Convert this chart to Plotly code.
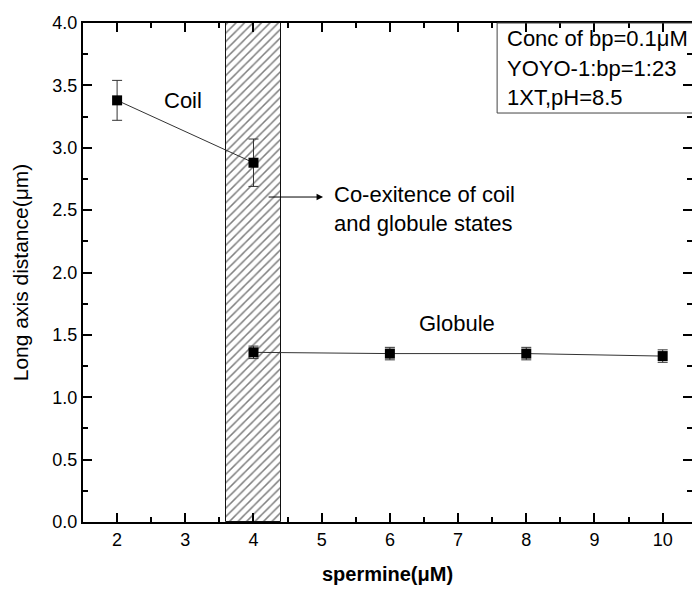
import plotly.graph_objects as go

# ---- data ----
coil_x = [2, 4]
coil_y = [3.38, 2.88]
coil_err = [0.16, 0.19]

glob_x = [4, 6, 8, 10]
glob_y = [1.36, 1.35, 1.35, 1.33]
glob_err = [0.05, 0.05, 0.05, 0.05]

region_x = [4]
region_h = [4.0]
region_w = [0.8]

x_ticks = [2, 3, 4, 5, 6, 7, 8, 9, 10]
y_ticks = [0.0, 0.5, 1.0, 1.5, 2.0, 2.5, 3.0, 3.5, 4.0]

FONT = "Liberation Sans, Arial, sans-serif"

fig = go.Figure()

fig.add_trace(go.Bar(
    x=region_x, y=region_h, width=region_w,
    marker=dict(color="white",
                line=dict(color="#111", width=1),
                pattern=dict(shape="/", fgcolor="black", bgcolor="white",
                             size=6, solidity=0.25)),
    showlegend=False, hoverinfo="skip"))

for xs, ys, es in [(coil_x, coil_y, coil_err), (glob_x, glob_y, glob_err)]:
    fig.add_trace(go.Scatter(
        x=xs, y=ys, mode="lines+markers",
        line=dict(color="#333", width=1),
        marker=dict(symbol="square", size=10, color="black"),
        error_y=dict(type="data", array=es, color="#333", thickness=1, width=5),
        showlegend=False))

# invisible trace to activate the right-hand tick axis
fig.add_trace(go.Scatter(x=[None], y=[None], yaxis="y2", showlegend=False, hoverinfo="skip"))

tickstyle = dict(ticks="inside", ticklen=9, tickwidth=1.5, tickcolor="black",
                 showgrid=False, zeroline=False,
                 tickfont=dict(family=FONT, size=18, color="black"))

fig.update_layout(
    xaxis=dict(range=[1.5, 10.43], tickvals=x_ticks,
               showline=True, linewidth=2, linecolor="black", mirror="ticks",
               minor=dict(ticks="inside", ticklen=5, tickwidth=1.5, dtick=0.5, tick0=1.5,
                          tickcolor="black"),
               title=dict(text="<b>spermine(μM)</b>",
                          font=dict(family=FONT, size=20, color="black"), standoff=18),
               **tickstyle),
    yaxis=dict(range=[0, 4], tickvals=y_ticks, tickformat=".1f",
               showline=True, linewidth=2, linecolor="black", mirror=False,
               minor=dict(ticks="inside", ticklen=5, tickwidth=1.5, dtick=0.25, tick0=0,
                          tickcolor="black"),
               title=dict(text="Long axis distance(μm)",
                          font=dict(family=FONT, size=21, color="black"), standoff=18),
               **tickstyle),
    yaxis2=dict(range=[0, 4], tickvals=y_ticks, overlaying="y", side="right",
                showline=False, showticklabels=False,
                minor=dict(ticks="inside", ticklen=5, tickwidth=1.5, dtick=0.25, tick0=0,
                           tickcolor="black"),
                **tickstyle),
)

ann_font = dict(family=FONT, size=22, color="black")
annotations = [
    dict(x=2.97, y=3.375, xref="x", yref="y", text="Coil", showarrow=False, font=ann_font),
    dict(x=6.98, y=1.595, xref="x", yref="y", text="Globule", showarrow=False, font=ann_font),
    dict(x=5.15, y=2.51, xref="x", yref="y", text="Co-exitence of coil<br>and globule states",
         showarrow=False, xanchor="left", yanchor="middle", align="left", font=ann_font),
    dict(x=5.02, y=2.605, ax=4.2, ay=2.605, xref="x", yref="y", axref="x", ayref="y",
         text="", showarrow=True, arrowhead=2, arrowsize=1.3, arrowwidth=1, arrowcolor="black"),
    dict(x=0.693, y=0.968, xref="paper", yref="paper", text="Conc of bp=0.1μM",
         showarrow=False, xanchor="left", yanchor="middle", font=ann_font),
    dict(x=0.693, y=0.9098, xref="paper", yref="paper", text="YOYO-1:bp=1:23",
         showarrow=False, xanchor="left", yanchor="middle", font=ann_font),
    dict(x=0.693, y=0.8517, xref="paper", yref="paper", text="1XT,pH=8.5",
         showarrow=False, xanchor="left", yanchor="middle", font=ann_font),
]

fig.update_layout(
    width=692, height=590,
    margin=dict(l=83, r=0, t=23, b=68),
    paper_bgcolor="white", plot_bgcolor="white",
    bargap=0,
    annotations=annotations,
    shapes=[dict(type="rect", xref="paper", yref="paper", x0=0.68, x1=1.05, y0=0.8196, y1=1.0,
                 line=dict(color="#444", width=1), fillcolor="rgba(0,0,0,0)")],
)

fig.write_html("out.html")
